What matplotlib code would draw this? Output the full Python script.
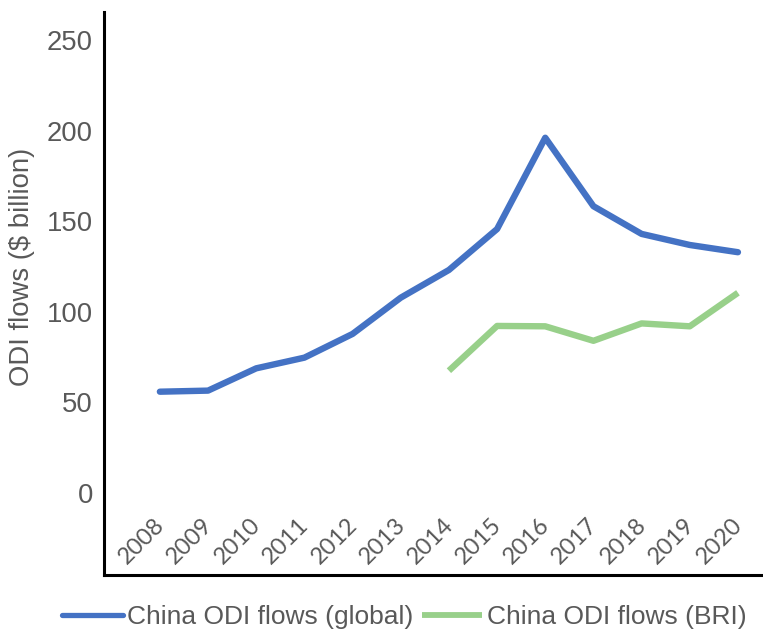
import matplotlib
matplotlib.use("Agg")
import matplotlib.pyplot as plt
from matplotlib.lines import Line2D

years = ["2008", "2009", "2010", "2011", "2012", "2013", "2014",
         "2015", "2016", "2017", "2018", "2019", "2020"]
odi_global = [55.9, 56.5, 68.8, 74.7, 87.8, 107.8, 123.1,
              145.7, 196.1, 158.3, 143.0, 136.9, 132.9]
bri_years = ["2014", "2015", "2016", "2017", "2018", "2019", "2020"]
odi_bri = [67.5, 92.2, 92.0, 84.0, 93.6, 92.0, 110.5]

blue = "#4472c4"
green = "#98d08a"
grey = "#595959"
font = "Liberation Sans"

fig = plt.figure(figsize=(7.63, 6.33), dpi=100)
ax = fig.add_axes([0.1363, 0.0916, 0.8637, 0.8894])

x_all = list(range(len(years)))
x_bri = [years.index(y) for y in bri_years]

ax.plot(x_all, odi_global, color=blue, lw=4.6, solid_capstyle="round",
        solid_joinstyle="round")
ax.plot(x_bri, odi_bri, color=green, lw=4.6, solid_capstyle="butt")

ax.set_xlim(-1.16, 12.52)
ax.set_ylim(-45.3, 265.5)

ax.set_yticks([0, 50, 100, 150, 200, 250])
ax.set_xticks([])
ax.tick_params(axis="y", length=0, pad=8, labelsize=19.8, labelcolor=grey)
for lbl in ax.get_yticklabels():
    lbl.set_fontfamily(font)

for side in ["top", "right"]:
    ax.spines[side].set_visible(False)
for side in ["left", "bottom"]:
    ax.spines[side].set_linewidth(2.2)
    ax.spines[side].set_color("black")

# rotated year labels sitting just below zero, as in the source chart
for i, yr in enumerate(years):
    ax.text(i - 0.38, -26.5, yr, rotation=45, ha="center", va="center",
            fontsize=17, color=grey, family="Lato")

fig.text(22 / 763, 1 - 267 / 633, "ODI flows ($ billion)", rotation=90,
         ha="center", va="center", fontsize=19.8, color=grey, family=font)

handles = [Line2D([], [], color=blue, lw=3.8, solid_capstyle="round"),
           Line2D([], [], color=green, lw=4.2, solid_capstyle="butt")]
fig.legend(handles, ["China ODI flows (global)", "China ODI flows (BRI)"],
           loc="center left", bbox_to_anchor=(62 / 763, 1 - 617 / 633),
           ncol=2, frameon=False,
           prop={"family": font, "size": 19.0}, labelcolor=grey,
           handlelength=2.3, handletextpad=0.18, columnspacing=0.3,
           borderpad=0, borderaxespad=0)

fig.savefig("out.png", dpi=100)
